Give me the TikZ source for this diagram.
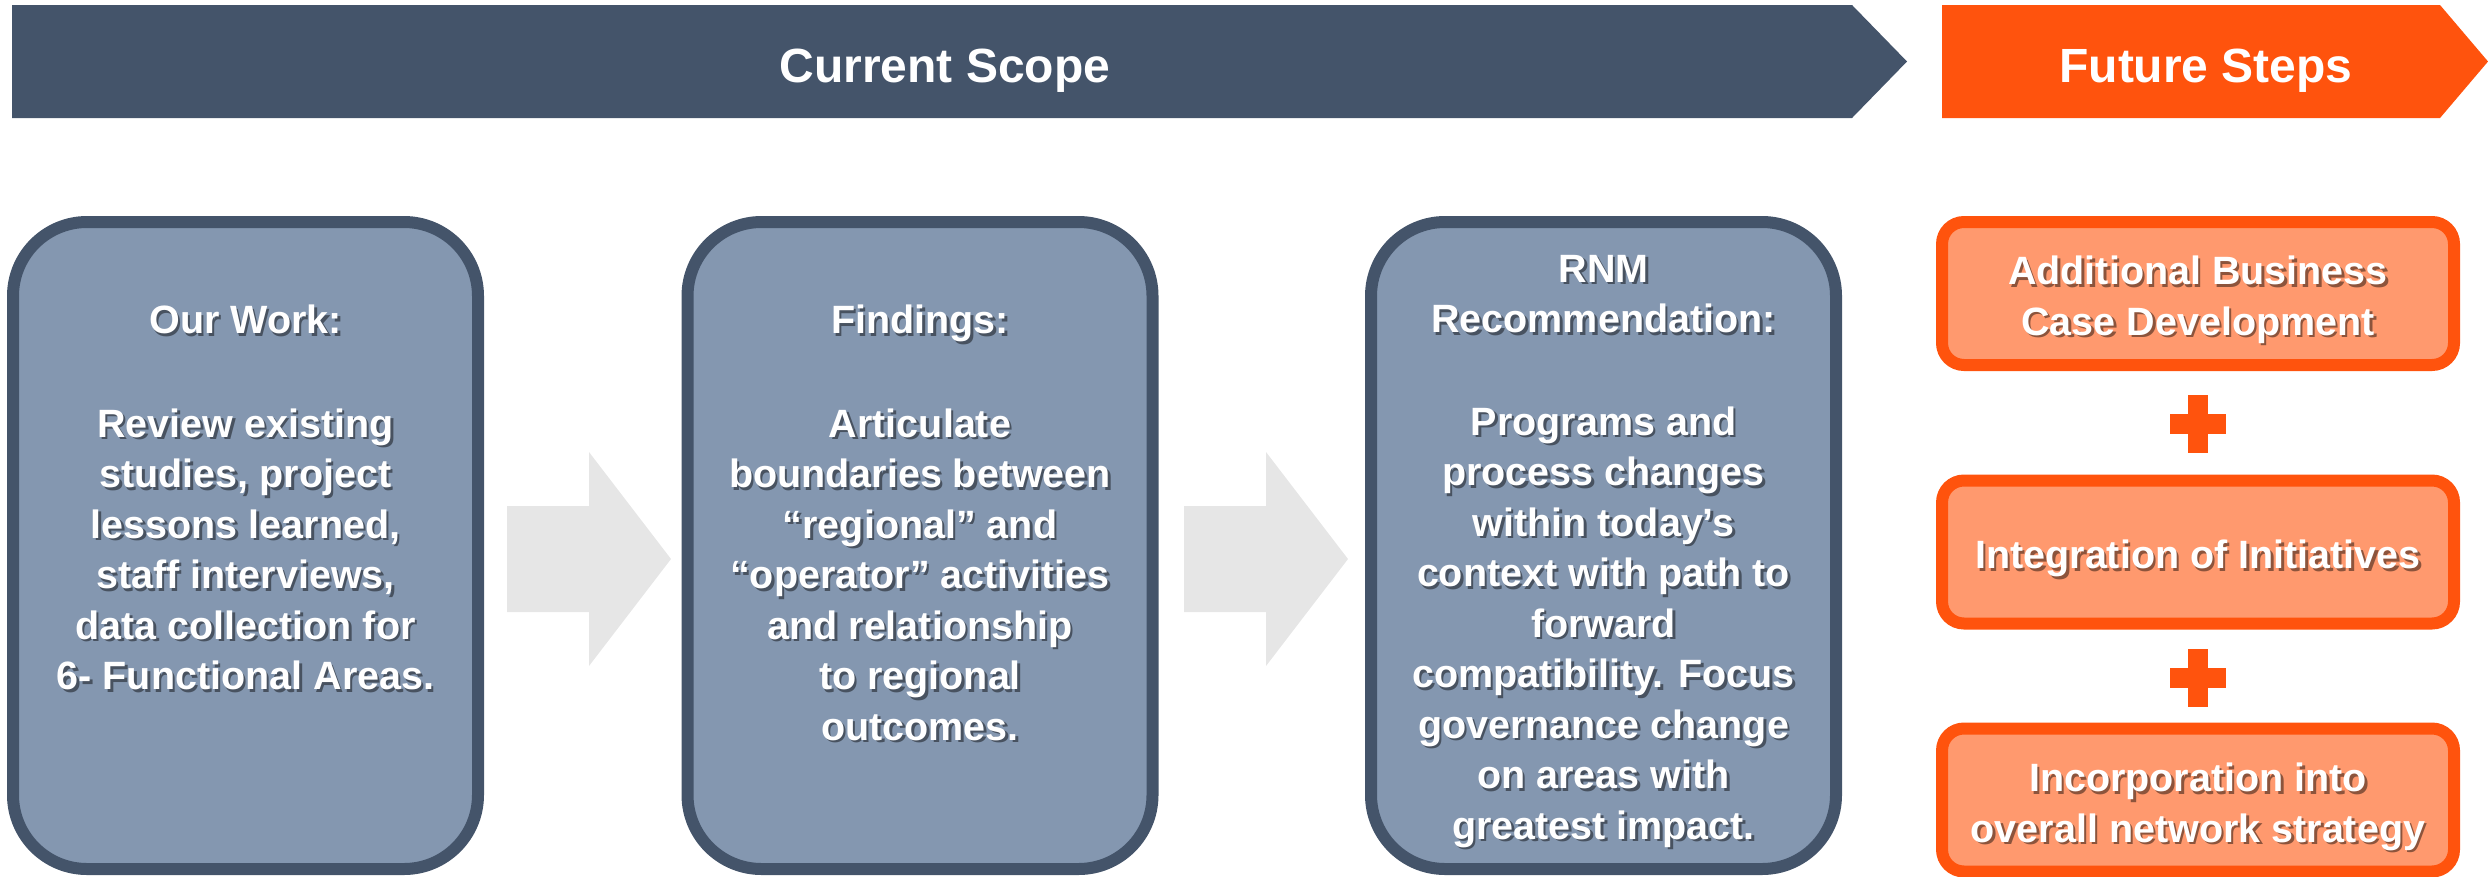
\documentclass[tikz,border=0pt]{standalone}
\usepackage{fontspec}
\setmainfont{Liberation Sans}
\definecolor{darkbl}{HTML}{44546A}
\definecolor{boxfill}{HTML}{8497B0}
\definecolor{orng}{HTML}{FF530D}
\definecolor{salmon}{HTML}{FF996E}
\definecolor{arrowgray}{HTML}{E6E6E6}
\newcommand\shadowed[3]{%
  \node[txt,text=black,text opacity=0.45,xshift=2.5pt,yshift=-2.5pt] (#1-s) at (#2) {#3};
  \node[txt] (#1) at (#2) {#3};
}
\begin{document}
\begin{tikzpicture}[x=1pt,y=-1pt,
  darkbox/.style={draw=darkbl, fill=boxfill, line width=12pt, rounded corners=74pt,
    minimum width=465pt, minimum height=647pt, inner sep=0pt},
  orbox/.style={draw=orng, fill=salmon, line width=12pt, rounded corners=22pt,
    minimum width=512pt, minimum height=143pt, inner sep=0pt},
  txt/.style={anchor=north, align=center, inner sep=0pt, text=white,
    font=\bfseries\fontsize{39.5}{50.5}\selectfont},
  bantxt/.style={anchor=base, inner sep=0pt, text=white,
    font=\bfseries\fontsize{48}{58}\selectfont}]
\useasboundingbox (0,0) rectangle (2488,876);

% banners
\fill[darkbl] (12,5) -- (1852,5) -- (1907,61.5) -- (1852,118) -- (12,118) -- cycle;
\fill[orng] (1942,5) -- (2440,5) -- (2488,61.5) -- (2440,118) -- (1942,118) -- cycle;
\node[bantxt] (cur) at (945,82) {Current Scope};
\node[bantxt] (fut) at (2206,82) {Future Steps};

% gray arrows
\fill[arrowgray] (507,506) -- (589,506) -- (589,452) -- (671,559) -- (589,666) -- (589,612) -- (507,612) -- cycle;
\fill[arrowgray] (1184,506) -- (1266,506) -- (1266,452) -- (1348,559) -- (1266,666) -- (1266,612) -- (1184,612) -- cycle;

% dark boxes
\node[darkbox] (b1) at (245.5,545.5) {};
\node[darkbox] (b2) at (920,545.5) {};
\node[darkbox] (b3) at (1603.5,545.5) {};

% orange boxes
\node[orbox] (o1) at (2198,293.5) {};
\node[orbox] (o2) at (2198,552) {};
\node[orbox] (o3) at (2198,800) {};

% plus signs
\fill[orng] (2170,414) rectangle (2226,434);
\fill[orng] (2188,395) rectangle (2208,453);
\fill[orng] (2170,668) rectangle (2226,688);
\fill[orng] (2188,649) rectangle (2208,707);

% texts
\shadowed{t1}{245.5,305}{Our Work:\\[53pt]Review existing\\studies, project\\lessons learned,\\staff interviews,\\data collection for\\6- Functional Areas.}
\shadowed{t2}{920,305}{Findings:\\[53pt]Articulate\\boundaries between\\“regional” and\\“operator” activities\\and relationship\\to regional\\outcomes.}
\shadowed{t3}{1603.5,255}{RNM\\Recommendation:\\[52pt]Programs and\\process changes\\within today’s\\context with path to\\forward\\compatibility. Focus\\governance change\\on areas with\\greatest impact.}
\shadowed{t4}{2198,256}{Additional Business\\Case Development}
\shadowed{t5}{2198,540}{Integration of Initiatives}
\shadowed{t6}{2198,763}{Incorporation into\\overall network strategy}
\end{tikzpicture}
\end{document}
